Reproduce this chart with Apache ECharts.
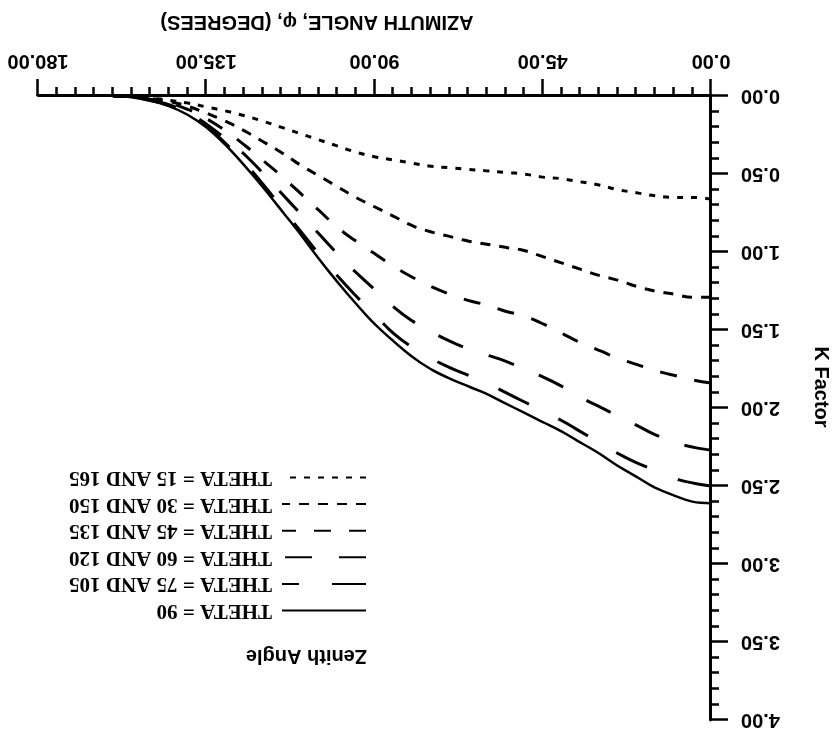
<!DOCTYPE html>
<html>
<head>
<meta charset="utf-8">
<script src="https://cdn.jsdelivr.net/npm/echarts@6/dist/echarts.min.js"></script>
<style>
html, body { margin: 0; padding: 0; background: #fff; }
#chart { width: 839px; height: 732px; transform: rotate(180deg); }
</style>
</head>
<body>
<div id="chart"></div>
<script>
// Azimuth angle (degrees)
const azimuth = [0,5,10,15,20,25,30,35,40,45,50,55,60,65,70,75,80,85,90,95,100,105,110,115,120,125,130,135,140,145,150,155,160];

// K factor per zenith angle
const theta90 = [2.61,2.60,2.56,2.51,2.44,2.37,2.29,2.22,2.15,2.09,2.03,1.97,1.91,1.86,1.81,1.75,1.67,1.57,1.46,1.33,1.19,1.04,0.88,0.73,0.58,0.44,0.31,0.20,0.12,0.065,0.03,0.008,0];
const theta75 = [2.50,2.48,2.45,2.40,2.35,2.29,2.22,2.15,2.08,2.02,1.96,1.90,1.84,1.79,1.74,1.68,1.61,1.52,1.40,1.28,1.15,1.01,0.86,0.71,0.56,0.42,0.30,0.19,0.115,0.06,0.028,0.008,0];
const theta60 = [2.27,2.25,2.22,2.17,2.11,2.05,1.99,1.93,1.86,1.80,1.75,1.70,1.66,1.62,1.57,1.51,1.44,1.35,1.24,1.13,1.01,0.88,0.75,0.62,0.49,0.37,0.27,0.18,0.105,0.055,0.025,0.007,0];
const theta45 = [1.84,1.82,1.79,1.76,1.72,1.68,1.63,1.58,1.52,1.46,1.41,1.38,1.34,1.31,1.27,1.22,1.16,1.09,1.01,0.93,0.84,0.73,0.62,0.51,0.41,0.31,0.22,0.145,0.085,0.045,0.02,0.006,0];
const theta30 = [1.29,1.29,1.27,1.25,1.22,1.18,1.15,1.11,1.07,1.03,0.99,0.97,0.95,0.93,0.90,0.87,0.83,0.77,0.71,0.65,0.58,0.51,0.44,0.36,0.29,0.22,0.16,0.11,0.065,0.035,0.016,0.005,0];
const theta15 = [0.66,0.65,0.65,0.64,0.62,0.60,0.57,0.55,0.53,0.52,0.50,0.49,0.48,0.47,0.46,0.45,0.43,0.41,0.39,0.36,0.32,0.28,0.24,0.20,0.16,0.125,0.095,0.07,0.045,0.027,0.013,0.004,0];

const seriesNames = ['THETA = 90','THETA = 75 AND 105','THETA = 60 AND 120','THETA = 45 AND 135','THETA = 30 AND 150','THETA = 15 AND 165'];
const seriesValues = [theta90, theta75, theta60, theta45, theta30, theta15];
const dashPatterns = ['solid', [34,33], [27,27], [17,18], [10,9], [6,8]];

const xAxisTitle = 'AZIMUTH ANGLE, \u03C6, (DEGREES)';
const yAxisTitle = 'K Factor';
const legendTitle = 'Zenith Angle';

const chart = echarts.init(document.getElementById('chart'));
const sansBold = { fontFamily: 'Liberation Sans, Arial, sans-serif', fontWeight: 'bold', color: '#000' };

const option = {
  backgroundColor: '#fff',
  animation: false,
  grid: { left: 126, right: 38, top: 12, bottom: 96, containLabel: false },
  xAxis: {
    type: 'value', min: 0, max: 180, interval: 45,
    name: xAxisTitle, nameLocation: 'middle', nameGap: 64,
    nameTextStyle: Object.assign({ fontSize: 20, padding: [0, 0, 0, 115] }, sansBold),
    axisLine: { show: true, lineStyle: { color: '#000', width: 3 } },
    axisTick: { show: true, length: 17, lineStyle: { color: '#000', width: 2.5 } },
    minorTick: { show: true, splitNumber: 9, length: 9, lineStyle: { color: '#000', width: 2.5 } },
    splitLine: { show: false },
    axisLabel: Object.assign({ fontSize: 20, margin: 25, formatter: v => v.toFixed(2) }, sansBold)
  },
  yAxis: {
    type: 'value', min: 0, max: 4, interval: 0.5,
    name: yAxisTitle, nameLocation: 'middle', nameGap: 100, nameRotate: 90,
    nameTextStyle: Object.assign({ fontSize: 20, padding: [0, 42, 0, 0] }, sansBold),
    axisLine: { show: true, lineStyle: { color: '#000', width: 3 } },
    axisTick: { show: true, length: 17, lineStyle: { color: '#000', width: 2.5 } },
    minorTick: { show: true, splitNumber: 5, length: 8, lineStyle: { color: '#000', width: 2.5 } },
    splitLine: { show: false },
    axisLabel: Object.assign({ fontSize: 20, margin: 30, formatter: v => v.toFixed(2) }, sansBold)
  },
  legend: {
    orient: 'vertical', left: 472, top: 111, padding: 0,
    itemWidth: 84, itemHeight: 14, itemGap: 5.6,
    data: seriesNames,
    itemStyle: { opacity: 0 },
    textStyle: { fontFamily: 'Liberation Serif, Times New Roman, serif', fontWeight: 'bold', fontSize: 21, lineHeight: 20, color: '#000', padding: [0, 0, 0, 5] }
  },
  graphic: [{
    type: 'text', left: 472, top: 66,
    style: { text: legendTitle, fontSize: 20, fontFamily: sansBold.fontFamily, fontWeight: 'bold', fill: '#000' }
  }],
  series: seriesNames.map((name, i) => ({
    name: name,
    type: 'line',
    data: azimuth.map((a, j) => [a, seriesValues[i][j]]),
    symbol: 'none',
    smooth: 0.4,
    lineStyle: { color: '#000', width: i === 0 ? 2.5 : 3, type: dashPatterns[i] },
    itemStyle: { color: '#000' }
  }))
};
chart.setOption(option);
</script>
</body>
</html>
